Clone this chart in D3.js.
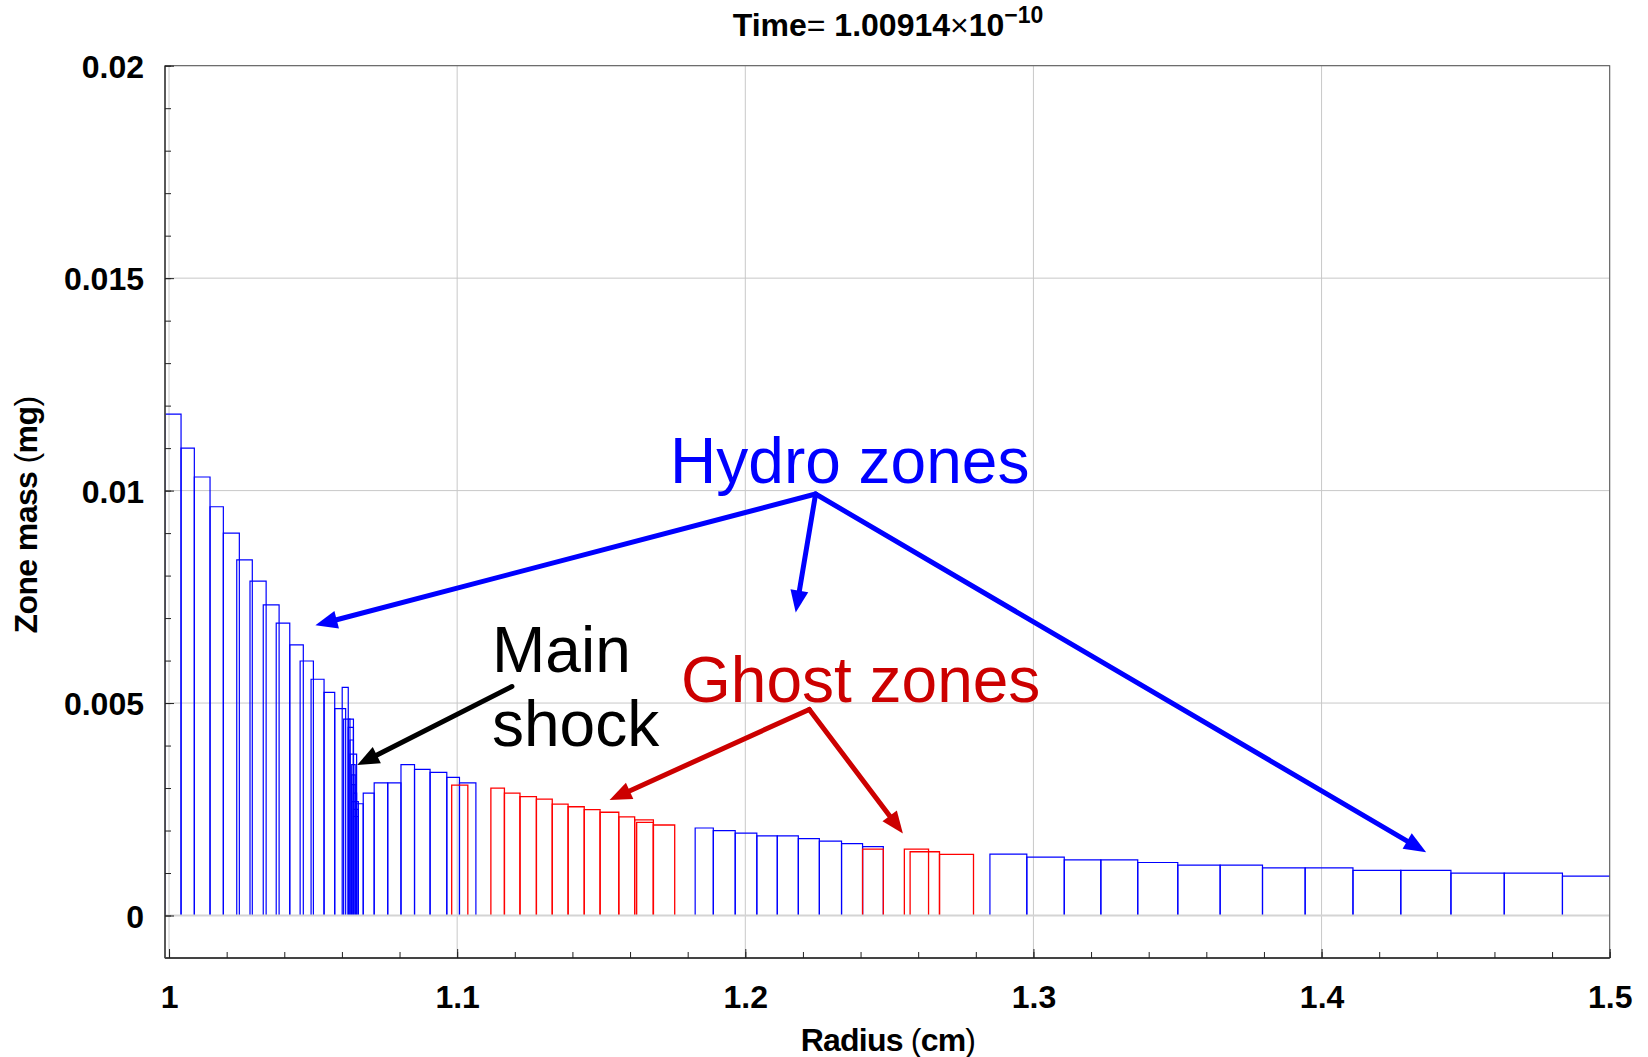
<!DOCTYPE html>
<html>
<head>
<meta charset="utf-8">
<script src="https://cdn.jsdelivr.net/npm/d3@7"></script>
<style>
  html, body { margin: 0; padding: 0; background: #fff; }
  svg { display: block; }
  text { font-family: "Liberation Sans", Arial, sans-serif; }
</style>
</head>
<body>
<svg id="chart" width="1648" height="1057"></svg>
<script>
// Hydro zones: [inner radius (cm), outer radius (cm), zone mass (mg)]
const hydroZones = [
  [0.9986, 1.00417, 0.0118],
  [1.00417, 1.00878, 0.0110],
  [1.00878, 1.01423, 0.01032],
  [1.01423, 1.01885, 0.00962],
  [1.01885, 1.0244, 0.0090],
  [1.0235, 1.0289, 0.00837],
  [1.0281, 1.0337, 0.00787],
  [1.0327, 1.0382, 0.00731],
  [1.0372, 1.0419, 0.00688],
  [1.0419, 1.0466, 0.00637],
  [1.0455, 1.0501, 0.00599],
  [1.0493, 1.0538, 0.00556],
  [1.0538, 1.0575, 0.00525],
  [1.0575, 1.0613, 0.00487],
  // compressed zones at the shock front
  [1.0601, 1.0622, 0.00537],
  [1.0606, 1.0628, 0.00462],
  [1.0622, 1.0640, 0.00462],
  [1.0622, 1.0640, 0.00443],
  [1.0628, 1.0640, 0.00413],
  [1.0628, 1.0651, 0.00380],
  [1.0634, 1.0646, 0.00355],
  [1.0634, 1.0646, 0.00331],
  [1.0634, 1.0646, 0.00308],
  [1.0640, 1.0651, 0.00288],
  [1.0634, 1.0657, 0.00268],
  [1.0640, 1.0657, 0.00250],
  [1.0640, 1.0657, 0.00233],
  // unshocked material
  [1.0651, 1.0674, 0.00263],
  [1.0674, 1.0712, 0.00288],
  [1.0712, 1.0759, 0.00312],
  [1.0759, 1.0805, 0.00312],
  [1.0805, 1.0852, 0.00355],
  [1.0852, 1.0906, 0.00344],
  [1.0906, 1.0964, 0.00337],
  [1.0964, 1.1008, 0.00325],
  [1.1008, 1.1065, 0.00312],
  [1.1826, 1.1889, 0.00206],
  [1.1889, 1.1965, 0.00200],
  [1.1965, 1.2040, 0.00194],
  [1.2040, 1.2111, 0.001875],
  [1.2111, 1.2184, 0.001875],
  [1.2184, 1.2257, 0.00181],
  [1.2257, 1.2334, 0.00175],
  [1.2334, 1.2407, 0.00169],
  [1.2407, 1.2479, 0.00162],
  [1.2849, 1.2977, 0.001445],
  [1.2977, 1.3107, 0.001374],
  [1.3107, 1.3234, 0.00131],
  [1.3234, 1.3362, 0.00131],
  [1.3362, 1.3501, 0.001247],
  [1.3501, 1.3648, 0.001186],
  [1.3648, 1.3795, 0.001186],
  [1.3795, 1.3943, 0.001122],
  [1.3943, 1.4109, 0.001122],
  [1.4109, 1.4275, 0.00106],
  [1.4275, 1.4449, 0.00106],
  [1.4449, 1.4634, 0.000998],
  [1.4634, 1.4836, 0.000998],
  [1.4836, 1.5050, 0.000927]
];

// Ghost zones: [inner radius (cm), outer radius (cm), zone mass (mg)]
const ghostZones = [
  [1.0981, 1.1037, 0.00307],
  [1.1117, 1.1164, 0.00300],
  [1.1164, 1.1218, 0.00288],
  [1.1218, 1.1275, 0.00280],
  [1.1275, 1.1330, 0.00274],
  [1.1330, 1.1385, 0.00262],
  [1.1385, 1.1441, 0.00256],
  [1.1441, 1.1496, 0.00249],
  [1.1496, 1.1561, 0.00243],
  [1.1561, 1.1616, 0.00232],
  [1.1616, 1.1681, 0.00225],
  [1.1623, 1.1681, 0.00219],
  [1.1681, 1.1755, 0.00213],
  [1.2407, 1.2479, 0.00156],
  [1.2552, 1.2636, 0.00156],
  [1.2572, 1.2674, 0.00150],
  [1.2674, 1.2792, 0.00144]
];

const xTickLabels = ["1", "1.1", "1.2", "1.3", "1.4", "1.5"];
const yTickLabels = ["0", "0.005", "0.01", "0.015", "0.02"];

// title pieces: [text, bold?]
const titleParts = [["Time", true], ["=", false], [" 1.00914", true], ["\u00d7", false], ["10", true]];
const titleExponent = "\u221210";
const xAxisTitle = ["Radius", "cm"];
const yAxisTitle = ["Zone mass", "mg"];

// Annotation arrows in data coordinates: [from, to]
const hydroArrows = [
  [[1.2244, 0.00992], [1.0508, 0.00683]],
  [[1.2244, 0.00992], [1.2175, 0.00713]],
  [[1.2244, 0.00992], [1.4363, 0.00149]]
];
const ghostArrows = [
  [[1.2222, 0.00485], [1.1529, 0.00272]],
  [[1.2222, 0.00485], [1.2547, 0.00193]]
];
const shockArrows = [
  [[1.1190, 0.00539], [1.0653, 0.00354]]
];

const svg = d3.select("#chart");
const frame = { left: 165, right: 1609.7, top: 65.7, bottom: 958 };

const x = d3.scaleLinear().domain([0.9986, 1.5]).range([frame.left, frame.right]);
const y = d3.scaleLinear().domain([-0.001, 0.02]).range([frame.bottom, frame.top]);

const xMajor = xTickLabels.map(Number);
const yMajor = yTickLabels.map(Number);
const xMinor = d3.range(1, 1.5001, 0.02);
const yMinor = d3.range(0, 0.02001, 0.001);

svg.append("defs").append("clipPath").attr("id", "plotClip")
  .append("rect")
  .attr("x", frame.left).attr("y", frame.top)
  .attr("width", frame.right - frame.left)
  .attr("height", frame.bottom - frame.top);

// grid
const grid = svg.append("g");
grid.selectAll("line.gx").data(xMajor).join("line")
  .attr("x1", d => x(d)).attr("x2", d => x(d))
  .attr("y1", frame.top).attr("y2", frame.bottom)
  .attr("stroke", "#c8c8c8").attr("stroke-width", 1);
grid.selectAll("line.gy").data(yMajor.filter(d => d > 0)).join("line")
  .attr("x1", frame.left).attr("x2", frame.right)
  .attr("y1", d => y(d)).attr("y2", d => y(d))
  .attr("stroke", "#c8c8c8").attr("stroke-width", 1);

// zone rectangles (open at the base, which sits on the zero line)
const zoneLayer = svg.append("g").attr("clip-path", "url(#plotClip)");
function zonePath(d) {
  const x0 = x(d[0]), x1 = x(d[1]), y0 = y(0), y1 = y(d[2]);
  return `M${x0},${y0}V${y1}H${x1}V${y0}`;
}
zoneLayer.selectAll("path.hydro").data(hydroZones).join("path")
  .attr("class", "hydro")
  .attr("d", zonePath)
  .attr("fill", "none").attr("stroke", "#0000ff").attr("stroke-width", 1.2);
zoneLayer.selectAll("path.ghost").data(ghostZones).join("path")
  .attr("class", "ghost")
  .attr("d", zonePath)
  .attr("fill", "none").attr("stroke", "#ff0000").attr("stroke-width", 1.3);

// zero line
svg.append("line")
  .attr("x1", frame.left).attr("x2", frame.right)
  .attr("y1", y(0)).attr("y2", y(0))
  .attr("stroke", "#d4d4d4").attr("stroke-width", 2.2);

// frame
svg.append("rect")
  .attr("x", frame.left).attr("y", frame.top)
  .attr("width", frame.right - frame.left).attr("height", frame.bottom - frame.top)
  .attr("fill", "none").attr("stroke", "#555").attr("stroke-width", 1);
svg.append("line")
  .attr("x1", frame.left).attr("x2", frame.right)
  .attr("y1", frame.bottom).attr("y2", frame.bottom)
  .attr("stroke", "#222").attr("stroke-width", 1.6);
svg.append("line")
  .attr("x1", frame.left).attr("x2", frame.left)
  .attr("y1", frame.top).attr("y2", frame.bottom)
  .attr("stroke", "#444").attr("stroke-width", 1.6);

// axes with inward ticks
const xAxis = d3.axisBottom(x).tickValues(xMinor).tickSize(-6).tickFormat("");
svg.append("g").attr("transform", `translate(0,${frame.bottom})`).call(xAxis)
  .call(g => g.select(".domain").remove())
  .call(g => g.selectAll(".tick line").attr("stroke", "#222"));
const xAxisMajor = d3.axisBottom(x).tickValues(xMajor).tickSize(-9)
  .tickFormat((d, i) => xTickLabels[i]);
svg.append("g").attr("transform", `translate(0,${frame.bottom})`).call(xAxisMajor)
  .call(g => g.select(".domain").remove())
  .call(g => g.selectAll(".tick line").attr("stroke", "#222"))
  .call(g => g.selectAll(".tick text")
    .attr("font-size", 32).attr("font-weight", "bold").attr("fill", "#000")
    .attr("font-family", "'Liberation Sans', Arial, sans-serif")
    .attr("dy", "0.71em").attr("y", 27));

const yAxis = d3.axisLeft(y).tickValues(yMinor).tickSize(-6).tickFormat("");
svg.append("g").attr("transform", `translate(${frame.left},0)`).call(yAxis)
  .call(g => g.select(".domain").remove())
  .call(g => g.selectAll(".tick line").attr("stroke", "#222"));
const yAxisMajor = d3.axisLeft(y).tickValues(yMajor).tickSize(-9)
  .tickFormat((d, i) => yTickLabels[i]);
svg.append("g").attr("transform", `translate(${frame.left},0)`).call(yAxisMajor)
  .call(g => g.select(".domain").remove())
  .call(g => g.selectAll(".tick line").attr("stroke", "#222"))
  .call(g => g.selectAll(".tick text")
    .attr("font-size", 32).attr("font-weight", "bold").attr("fill", "#000")
    .attr("font-family", "'Liberation Sans', Arial, sans-serif")
    .attr("x", -21).attr("dy", "0.36em"));

// title
const title = svg.append("text")
  .attr("x", 888).attr("y", 36)
  .attr("text-anchor", "middle")
  .attr("font-size", 32).attr("fill", "#000");
titleParts.forEach(p => {
  title.append("tspan").attr("font-weight", p[1] ? "bold" : "normal").text(p[0]);
});
title.append("tspan").attr("dy", -13).attr("font-size", 23).attr("font-weight", "bold").text(titleExponent);

// axis titles: bold words, plain parentheses
function axisTitle(sel, parts) {
  sel.append("tspan").attr("font-weight", "bold").text(parts[0] + " ");
  sel.append("tspan").attr("font-weight", "normal").text("(");
  sel.append("tspan").attr("font-weight", "bold").text(parts[1]);
  sel.append("tspan").attr("font-weight", "normal").text(")");
}
const xt = svg.append("text")
  .attr("x", 888).attr("y", 1051)
  .attr("text-anchor", "middle")
  .attr("font-size", 32).attr("fill", "#000").attr("letter-spacing", -0.8);
axisTitle(xt, xAxisTitle);

const yt = svg.append("text")
  .attr("transform", "translate(37,515) rotate(-90)")
  .attr("text-anchor", "middle")
  .attr("font-size", 32).attr("fill", "#000").attr("letter-spacing", -0.6);
axisTitle(yt, yAxisTitle);

// annotation arrows
function drawArrow(g, from, to, color, width, headLen, headHalf) {
  const x0 = x(from[0]), y0 = y(from[1]), x1 = x(to[0]), y1 = y(to[1]);
  const ang = Math.atan2(y1 - y0, x1 - x0);
  const bx = x1 - headLen * Math.cos(ang), by = y1 - headLen * Math.sin(ang);
  g.append("line")
    .attr("x1", x0).attr("y1", y0).attr("x2", bx + Math.cos(ang) * 2).attr("y2", by + Math.sin(ang) * 2)
    .attr("stroke", color).attr("stroke-width", width).attr("stroke-linecap", "round");
  const px = -Math.sin(ang), py = Math.cos(ang);
  g.append("path")
    .attr("d", `M${x1},${y1}L${bx + px * headHalf},${by + py * headHalf}L${bx - px * headHalf},${by - py * headHalf}Z`)
    .attr("fill", color);
}
const ann = svg.append("g");
hydroArrows.forEach(a => drawArrow(ann, a[0], a[1], "#0000ff", 5, 22, 9));
ghostArrows.forEach(a => drawArrow(ann, a[0], a[1], "#cc0000", 5, 22, 9));
shockArrows.forEach(a => drawArrow(ann, a[0], a[1], "#000000", 5, 22, 9));

// annotation labels
ann.append("text").attr("x", x(1.1739)).attr("y", y(0.01018))
  .attr("font-size", 64).attr("fill", "#0000ff").text("Hydro zones");
ann.append("text").attr("x", x(1.1777)).attr("y", y(0.00502))
  .attr("font-size", 64).attr("fill", "#cc0000").text("Ghost zones");
ann.append("text").attr("x", x(1.1121)).attr("y", y(0.00572))
  .attr("font-size", 64).attr("fill", "#000").text("Main");
ann.append("text").attr("x", x(1.1121)).attr("y", y(0.00399))
  .attr("font-size", 64).attr("fill", "#000").text("shock");
</script>
</body>
</html>
